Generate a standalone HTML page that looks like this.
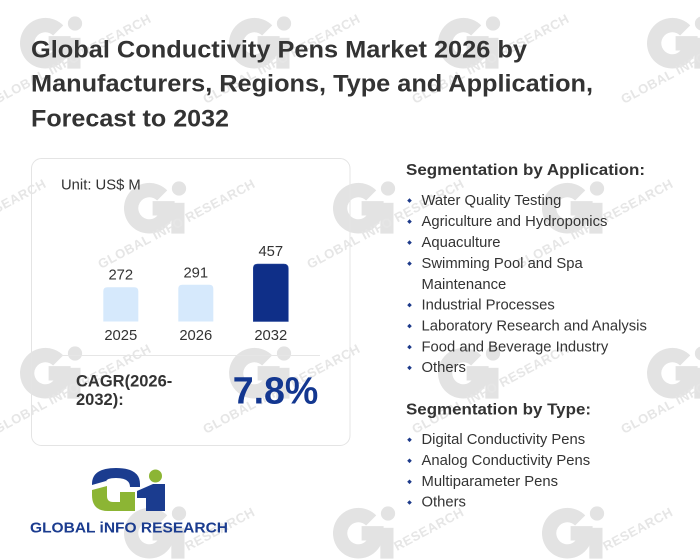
<!DOCTYPE html>
<html>
<head>
<meta charset="utf-8">
<style>
  html, body { margin: 0; padding: 0; background: #ffffff; }
  body { width: 700px; height: 560px; overflow: hidden; }
  svg { display: block; font-family: "Liberation Sans", Arial, sans-serif; }
</style>
</head>
<body>
<svg width="700" height="560" viewBox="0 0 700 560" xmlns="http://www.w3.org/2000/svg">
  <rect width="700" height="560" fill="#ffffff"/>

  <defs>
    <g id="wm">
      <g transform="scale(1.1)">
        <path d="M 34.7 11.3 A 16.5 16.5 0 1 0 39.5 23 L 26 23" fill="none" stroke="#e3e3e3" stroke-width="13"/>
        <rect x="43" y="18" width="12" height="28" fill="#e3e3e3"/>
        <circle cx="50" cy="5" r="6.5" fill="#e3e3e3"/>
      </g>
    </g>
  </defs>

  <!-- watermarks -->
  <g>
    <use href="#wm" x="20" y="18"/><use href="#wm" x="229" y="18"/><use href="#wm" x="438" y="18"/><use href="#wm" x="647" y="18"/>
    <use href="#wm" x="-85" y="183"/><use href="#wm" x="124" y="183"/><use href="#wm" x="333" y="183"/><use href="#wm" x="542" y="183"/>
    <use href="#wm" x="20" y="348"/><use href="#wm" x="229" y="348"/><use href="#wm" x="438" y="348"/><use href="#wm" x="647" y="348"/>
    <use href="#wm" x="-85" y="508"/><use href="#wm" x="124" y="508"/><use href="#wm" x="333" y="508"/><use href="#wm" x="542" y="508"/>
  </g>
  <g font-size="13" font-weight="bold" fill="#e6e6e6" letter-spacing="0.5">
    <text x="-3" y="104" transform="rotate(-28 -3 104)">GLOBAL INFO RESEARCH</text>
    <text x="206" y="104" transform="rotate(-28 206 104)">GLOBAL INFO RESEARCH</text>
    <text x="415" y="104" transform="rotate(-28 415 104)">GLOBAL INFO RESEARCH</text>
    <text x="624" y="104" transform="rotate(-28 624 104)">GLOBAL INFO RESEARCH</text>
    <text x="-108" y="269" transform="rotate(-28 -108 269)">GLOBAL INFO RESEARCH</text>
    <text x="101" y="269" transform="rotate(-28 101 269)">GLOBAL INFO RESEARCH</text>
    <text x="310" y="269" transform="rotate(-28 310 269)">GLOBAL INFO RESEARCH</text>
    <text x="519" y="269" transform="rotate(-28 519 269)">GLOBAL INFO RESEARCH</text>
    <text x="-3" y="434" transform="rotate(-28 -3 434)">GLOBAL INFO RESEARCH</text>
    <text x="206" y="434" transform="rotate(-28 206 434)">GLOBAL INFO RESEARCH</text>
    <text x="415" y="434" transform="rotate(-28 415 434)">GLOBAL INFO RESEARCH</text>
    <text x="624" y="434" transform="rotate(-28 624 434)">GLOBAL INFO RESEARCH</text>
    <text x="188" y="551" transform="rotate(-28 188 551)">RESEARCH</text>
    <text x="397" y="551" transform="rotate(-28 397 551)">RESEARCH</text>
    <text x="606" y="551" transform="rotate(-28 606 551)">RESEARCH</text>
  </g>

  <!-- Title -->
  <g font-size="24" font-weight="bold" fill="#333333">
    <text x="31" y="57.3" textLength="496" lengthAdjust="spacingAndGlyphs">Global Conductivity Pens Market 2026 by</text>
    <text x="31" y="91.7" textLength="562" lengthAdjust="spacingAndGlyphs">Manufacturers, Regions, Type and Application,</text>
    <text x="31" y="126.7" textLength="198" lengthAdjust="spacingAndGlyphs">Forecast to 2032</text>
  </g>

  <!-- Card -->
  <rect x="31.5" y="158.5" width="318.5" height="287" rx="10" ry="10" fill="none" stroke="#e4e4e4" stroke-width="1"/>
  <text x="61" y="189.3" font-size="14.8" fill="#333333">Unit: US$ M</text>

  <!-- bars -->
  <path d="M 103.3 321.5 L 103.3 291.3 Q 103.3 287.3 107.3 287.3 L 134.3 287.3 Q 138.3 287.3 138.3 291.3 L 138.3 321.5 Z" fill="#d6e9fc"/>
  <path d="M 178.3 321.5 L 178.3 288.7 Q 178.3 284.7 182.3 284.7 L 209.3 284.7 Q 213.3 284.7 213.3 288.7 L 213.3 321.5 Z" fill="#d6e9fc"/>
  <path d="M 253.3 321.5 L 253.3 268.5 Q 253.3 264 257.8 264 L 283.8 264 Q 288.3 264 288.3 268.5 L 288.3 321.5 Z" fill="#0f2f88" stroke="#2a4a9e" stroke-width="0.6"/>

  <g font-size="14.8" fill="#333333" text-anchor="middle">
    <text x="120.8" y="279.3">272</text>
    <text x="195.8" y="277.3">291</text>
    <text x="270.8" y="256">457</text>
    <text x="120.8" y="340">2025</text>
    <text x="195.8" y="340">2026</text>
    <text x="270.8" y="340">2032</text>
  </g>

  <line x1="61" y1="355.5" x2="320" y2="355.5" stroke="#e6e6e6" stroke-width="1"/>

  <g font-size="16.5" font-weight="bold" fill="#333333">
    <text x="76" y="386.7">CAGR(2026-</text>
    <text x="76" y="405">2032):</text>
  </g>
  <text x="232.7" y="403.3" font-size="38" font-weight="bold" fill="#133790" textLength="85.6" lengthAdjust="spacingAndGlyphs">7.8%</text>

  <!-- Right column -->
  <text x="406" y="175" font-size="16" font-weight="bold" fill="#333333" textLength="239" lengthAdjust="spacingAndGlyphs">Segmentation by Application:</text>
  <g fill="#1d3a8a">
    <path d="M 409.5 198.3 l 2.3 2.3 l -2.3 2.3 l -2.3 -2.3 Z"/>
    <path d="M 409.5 219.3 l 2.3 2.3 l -2.3 2.3 l -2.3 -2.3 Z"/>
    <path d="M 409.5 240.3 l 2.3 2.3 l -2.3 2.3 l -2.3 -2.3 Z"/>
    <path d="M 409.5 261.3 l 2.3 2.3 l -2.3 2.3 l -2.3 -2.3 Z"/>
    <path d="M 409.5 302.8 l 2.3 2.3 l -2.3 2.3 l -2.3 -2.3 Z"/>
    <path d="M 409.5 323.8 l 2.3 2.3 l -2.3 2.3 l -2.3 -2.3 Z"/>
    <path d="M 409.5 344.8 l 2.3 2.3 l -2.3 2.3 l -2.3 -2.3 Z"/>
    <path d="M 409.5 365.5 l 2.3 2.3 l -2.3 2.3 l -2.3 -2.3 Z"/>
    <path d="M 409.5 437.5 l 2.3 2.3 l -2.3 2.3 l -2.3 -2.3 Z"/>
    <path d="M 409.5 458.5 l 2.3 2.3 l -2.3 2.3 l -2.3 -2.3 Z"/>
    <path d="M 409.5 479.5 l 2.3 2.3 l -2.3 2.3 l -2.3 -2.3 Z"/>
    <path d="M 409.5 500.2 l 2.3 2.3 l -2.3 2.3 l -2.3 -2.3 Z"/>
  </g>
  <g font-size="14.8" fill="#333333">
    <text x="421.5" y="205">Water Quality Testing</text>
    <text x="421.5" y="226">Agriculture and Hydroponics</text>
    <text x="421.5" y="247">Aquaculture</text>
    <text x="421.5" y="268">Swimming Pool and Spa</text>
    <text x="421.5" y="289">Maintenance</text>
    <text x="421.5" y="309.5">Industrial Processes</text>
    <text x="421.5" y="330.5">Laboratory Research and Analysis</text>
    <text x="421.5" y="351.5">Food and Beverage Industry</text>
    <text x="421.5" y="372">Others</text>
  </g>

  <text x="406" y="414.3" font-size="16" font-weight="bold" fill="#333333" textLength="185" lengthAdjust="spacingAndGlyphs">Segmentation by Type:</text>
  <g font-size="14.8" fill="#333333">
    <text x="421.5" y="444">Digital Conductivity Pens</text>
    <text x="421.5" y="465">Analog Conductivity Pens</text>
    <text x="421.5" y="486">Multiparameter Pens</text>
    <text x="421.5" y="506.7">Others</text>
  </g>

  <!-- Logo -->
  <path d="M 92 485 L 92 484 Q 92 468 116 468 Q 140 468 140 484 L 140 487 L 130 487 Q 130 478 116 478 Q 106 478 106 482 L 106 481 Z" fill="#1b3c8f"/>
  <path d="M 92 490 L 107 486 L 107 496 Q 107 502 113 502 L 120 502 L 120 492 L 135 492 L 135 511 L 108 511 Q 92 511 92 495 Z" fill="#8cb534"/>
  <path d="M 137 491 L 153 484 L 165 484 L 165 511 L 146 511 L 146 498 L 137 498 Z" fill="#1b3c8f"/>
  <circle cx="155.5" cy="476" r="6.5" fill="#8cb534"/>
  <text x="30" y="532.3" font-size="15" font-weight="bold" fill="#1b3c8f" textLength="198" lengthAdjust="spacingAndGlyphs">GLOBAL iNFO RESEARCH</text>
</svg>
</body>
</html>
